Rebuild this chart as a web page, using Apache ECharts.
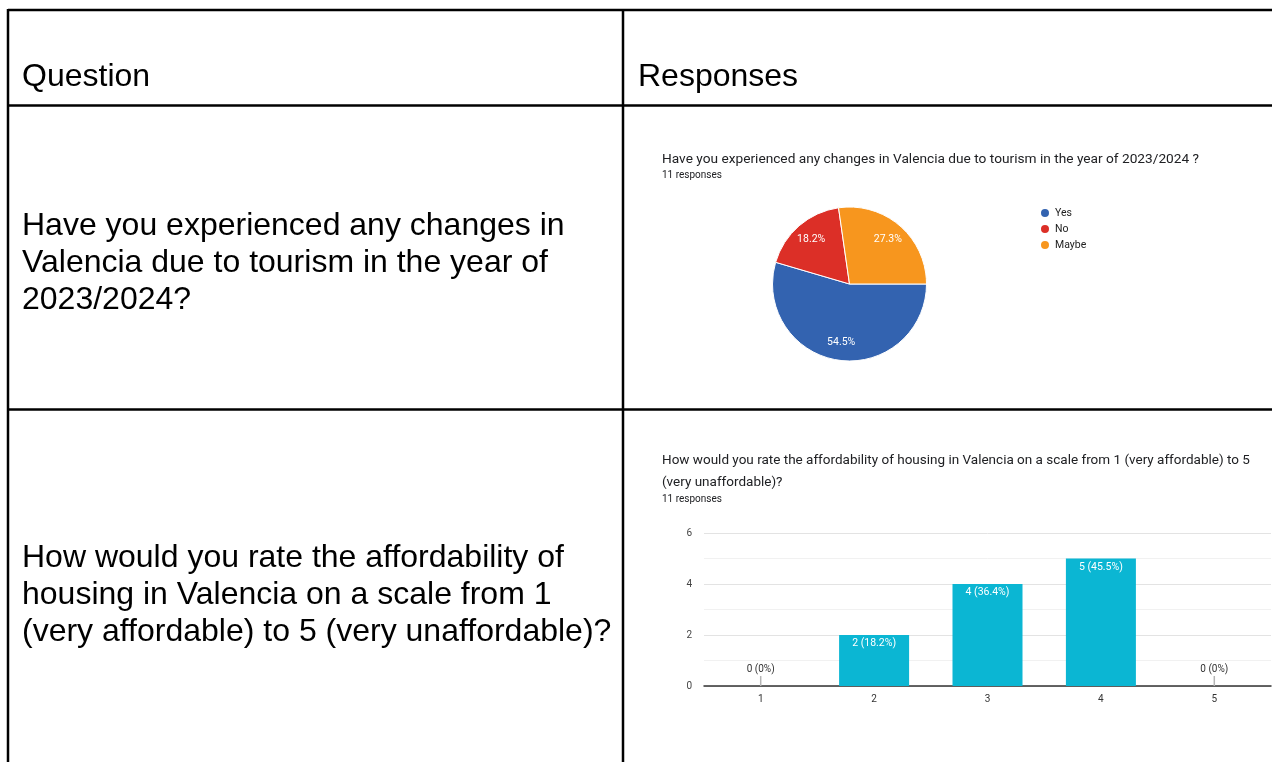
<!DOCTYPE html>
<html>
<head>
<meta charset="utf-8">
<title>Valencia tourism survey</title>
<script src="https://cdn.jsdelivr.net/npm/echarts@6/dist/echarts.min.js"></script>
<style>
  html, body { margin: 0; padding: 0; background: #fff; }
  #chart { width: 1272px; height: 762px; }
</style>
</head>
<body>
<div id="chart"></div>
<script>
// Survey question 1: changes noticed due to tourism
const pieTitle = 'Have you experienced any changes in Valencia due to tourism in the year of 2023/2024 ?';
const pieNames = ['Yes', 'No', 'Maybe'];
const pieCounts = [6, 2, 3];
const pieColors = ['#3363b0', '#dc2f27', '#f7961e'];

// Survey question 2: housing affordability rating
const barTitle = 'How would you rate the affordability of housing in Valencia on a scale from 1 (very affordable) to 5\n(very unaffordable)?';
const barCategories = ['1', '2', '3', '4', '5'];
const barCounts = [0, 2, 4, 5, 0];
const yTicks = [0, 2, 4, 6];

const responsesText = '11 responses';

// Table cell text
const headerLeft = 'Question';
const headerRight = 'Responses';
const question1 = 'Have you experienced any changes in\nValencia due to tourism in the year of\n2023/2024?';
const question2 = 'How would you rate the affordability of\nhousing in Valencia on a scale from 1\n(very affordable) to 5 (very unaffordable)?';

const pieTotal = pieCounts.reduce((a, b) => a + b, 0);
const barTotal = barCounts.reduce((a, b) => a + b, 0);

function pctText(v, total) {
  const p = Math.round(v / total * 1000) / 10;
  return (p % 1 === 0 ? p.toFixed(0) : p.toFixed(1)) + '%';
}

const chart = echarts.init(document.getElementById('chart'), null, { renderer: 'canvas' });

const tableFont = '"Liberation Sans", Arial, sans-serif';
const chartFont = 'Roboto, "Noto Sans", sans-serif';
const lineStyle = { stroke: '#000', lineWidth: 2.5 };

const graphic = [
  // table grid
  { type: 'line', shape: { x1: 8, y1: 10, x2: 1272, y2: 10 }, style: lineStyle, z: 100 },
  { type: 'line', shape: { x1: 8, y1: 105.5, x2: 1272, y2: 105.5 }, style: lineStyle, z: 100 },
  { type: 'line', shape: { x1: 8, y1: 409.5, x2: 1272, y2: 409.5 }, style: lineStyle, z: 100 },
  { type: 'line', shape: { x1: 8, y1: 9, x2: 8, y2: 762 }, style: lineStyle, z: 100 },
  { type: 'line', shape: { x1: 623, y1: 9, x2: 623, y2: 762 }, style: lineStyle, z: 100 },
  // cell text
  { type: 'text', left: 22, top: 61, style: { text: headerLeft, font: '32px ' + tableFont, fill: '#000' } },
  { type: 'text', left: 638, top: 61, style: { text: headerRight, font: '32px ' + tableFont, fill: '#000' } },
  { type: 'text', left: 22, top: 208, style: { text: question1, font: '32px ' + tableFont, fill: '#000', lineHeight: 37 } },
  { type: 'text', left: 22, top: 540, style: { text: question2, font: '32px ' + tableFont, fill: '#000', lineHeight: 37 } }
];

const option = {
  backgroundColor: '#fff',
  animation: false,
  textStyle: { fontFamily: chartFont },
  graphic: graphic,
  title: [
    {
      text: pieTitle, subtext: responsesText,
      left: 657, top: 148, itemGap: 3,
      textStyle: { fontSize: 13.7, fontWeight: 'normal', color: '#202124', fontFamily: chartFont },
      subtextStyle: { fontSize: 10, color: '#202124', fontFamily: chartFont }
    },
    {
      text: barTitle, subtext: responsesText,
      left: 657, top: 445, itemGap: 0,
      textStyle: { fontSize: 13.5, fontWeight: 'normal', color: '#202124', lineHeight: 22, fontFamily: chartFont },
      subtextStyle: { fontSize: 10, color: '#202124', fontFamily: chartFont }
    }
  ],
  legend: {
    data: pieNames,
    orient: 'vertical',
    left: 1034, top: 202,
    icon: 'circle', itemWidth: 10, itemHeight: 10, itemGap: 4,
    textStyle: { fontSize: 10.5, color: '#222', padding: [0, 0, 0, 0] }
  },
  grid: { left: 704, right: 1, top: 533, bottom: 76, containLabel: false },
  xAxis: [
    {
      type: 'category', data: barCategories,
      axisTick: { show: false },
      axisLine: { lineStyle: { color: '#333', width: 1.5 } },
      axisLabel: { color: '#333', fontSize: 10, margin: 8 }
    },
    { type: 'category', data: barCategories, show: false }
  ],
  yAxis: {
    type: 'value', min: 0, max: 6, interval: 2,
    axisLine: { show: false }, axisTick: { show: false },
    axisLabel: {
      color: '#444', fontSize: 10, margin: 12,
      formatter: v => (yTicks.indexOf(v) >= 0 ? String(v) : '')
    },
    splitLine: { lineStyle: { color: '#e3e3e3' } },
    minorTick: { show: false, splitNumber: 2 },
    minorSplitLine: { show: true, lineStyle: { color: '#f1f1f1' } }
  },
  series: [
    {
      type: 'pie', name: 'changes',
      center: [849.5, 284], radius: 77,
      startAngle: 0, clockwise: true,
      color: pieColors,
      itemStyle: { borderColor: '#fff', borderWidth: 1 },
      label: { show: false }, labelLine: { show: false },
      emphasis: { disabled: true },
      data: pieNames.map((n, i) => ({ name: n, value: pieCounts[i] }))
    },
    {
      // label ring: places percentage text partway out from the centre
      type: 'pie', name: 'labels', silent: true,
      center: [849.5, 284], radius: [34, 77],
      startAngle: 0, clockwise: true,
      itemStyle: { color: 'rgba(0,0,0,0)' },
      label: {
        show: true, position: 'inside', color: '#fff', fontSize: 10.5,
        formatter: p => pctText(p.value, pieTotal)
      },
      labelLine: { show: false },
      emphasis: { disabled: true },
      data: pieNames.map((n, i) => ({ name: n, value: pieCounts[i] }))
    },
    {
      type: 'bar', name: 'responses',
      xAxisIndex: 0,
      barWidth: 70,
      itemStyle: { color: '#0bb6d3' },
      label: {
        show: true, position: 'insideTop', distance: 3,
        color: '#fff', fontSize: 10.5,
        formatter: p => p.value + ' (' + pctText(p.value, barTotal) + ')'
      },
      emphasis: { disabled: true },
      data: barCounts.map(v => (v === 0 ? { value: v, label: { show: false } } : v))
    },
    {
      // grey stub marking categories with no responses
      type: 'bar', name: 'empty',
      xAxisIndex: 1,
      barWidth: 1.5, barMinHeight: 10,
      itemStyle: { color: '#b5b5b5' },
      label: {
        show: true, position: 'top', distance: 2,
        color: '#333', fontSize: 10,
        formatter: p => p.value + ' (' + pctText(p.value, barTotal) + ')'
      },
      emphasis: { disabled: true },
      data: barCounts.map(v => (v === 0 ? v : '-'))
    }
  ]
};

chart.setOption(option);
</script>
</body>
</html>
